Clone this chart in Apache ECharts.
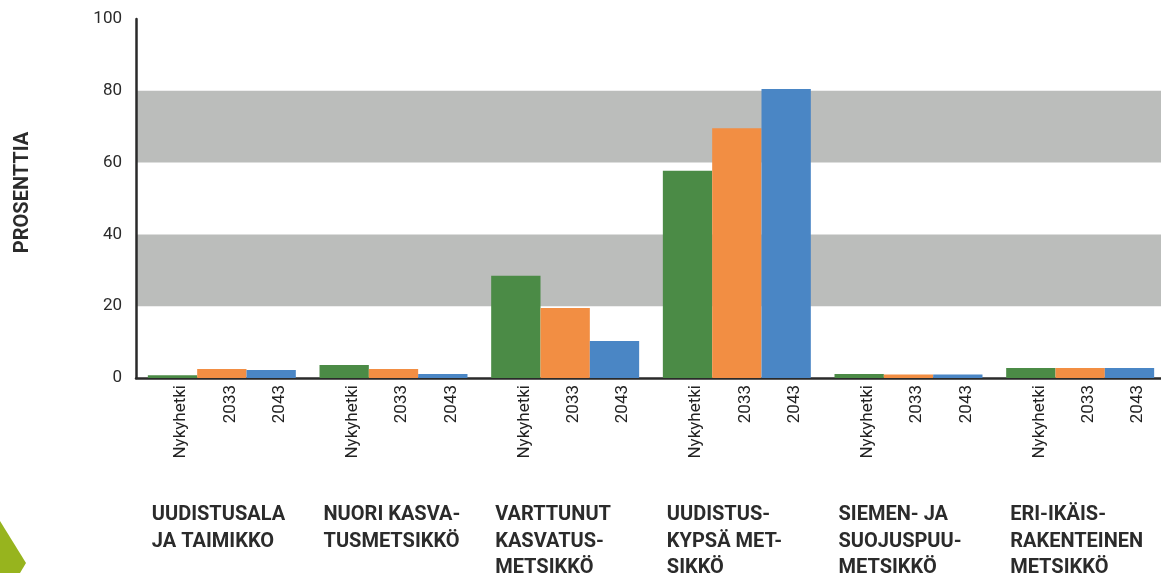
<!DOCTYPE html>
<html>
<head>
<meta charset="utf-8">
<script src="https://cdn.jsdelivr.net/npm/echarts@6/dist/echarts.min.js"></script>
<style>
html,body{margin:0;padding:0;background:#fff;overflow:hidden;}
#chart{width:1161px;height:573px;}
</style>
</head>
<body>
<div id="chart"></div>
<script>
// ---- data ----
const groups = [
  'UUDISTUSALA\nJA TAIMIKKO',
  'NUORI KASVA-\nTUSMETSIKKÖ',
  'VARTTUNUT\nKASVATUS-\nMETSIKKÖ',
  'UUDISTUS-\nKYPSÄ MET-\nSIKKÖ',
  'SIEMEN- JA\nSUOJUSPUU-\nMETSIKKÖ',
  'ERI-IKÄIS-\nRAKENTEINEN\nMETSIKKÖ'
];
const seriesNames = ['Nykyhetki', '2033', '2043'];
const nykyhetki = [0.8, 3.6, 28.5, 57.7, 1.1, 2.8];
const v2033 = [2.5, 2.5, 19.5, 69.6, 1.0, 2.8];
const v2043 = [2.2, 1.1, 10.3, 80.5, 1.0, 2.8];
const yAxisName = 'PROSENTTIA';
const yMin = 0, yMax = 100, yStep = 20;

const colors = ['#4B8B46', '#F28E43', '#4A86C5'];
const values = [nykyhetki, v2033, v2043];

const chart = echarts.init(document.getElementById('chart'), null, {renderer: 'canvas'});

const series = seriesNames.map((name, i) => ({
  name: name,
  type: 'bar',
  data: values[i],
  barGap: '0%',
  barCategoryGap: '13.8%',
  itemStyle: {color: colors[i]},
  label: {
    show: true,
    position: 'bottom',
    distance: 7,
    rotate: 90,
    align: 'right',
    verticalAlign: 'top',
    formatter: '{a}',
    fontFamily: 'Roboto',
    fontSize: 17,
    color: '#222'
  },
  emphasis: {disabled: true},
  animation: false
}));

chart.setOption({
  animation: false,
  textStyle: {fontFamily: 'Roboto'},
  grid: {left: 136, width: 1030, top: 19, bottom: 195, containLabel: false, outerBoundsMode: 'none'},
  xAxis: {
    type: 'category',
    data: groups,
    axisLine: {show: true, lineStyle: {color: '#2a2a2a', width: 2.5}},
    axisTick: {show: false},
    axisLabel: {
      interval: 0,
      margin: 124,
      align: 'center',
      verticalAlign: 'top',
      formatter: function (v) {
        return v.split('\n').map(l => '{a|' + l + '}').join('\n');
      },
      rich: {
        a: {
          width: 148,
          align: 'left',
          padding: [0, 0, 0, 8],
          fontFamily: 'Roboto',
          fontWeight: 'bold',
          fontSize: 20,
          lineHeight: 26.5,
          color: '#2b2b2b'
        }
      }
    },
    splitLine: {show: false}
  },
  yAxis: {
    type: 'value',
    min: yMin,
    max: yMax,
    interval: yStep,
    name: yAxisName,
    nameLocation: 'middle',
    nameRotate: 90,
    nameGap: 103,
    nameTextStyle: {fontFamily: 'Roboto', fontWeight: 'bold', fontSize: 20, color: '#2b2b2b', padding: [0, 0, 0, 12]},
    axisLine: {show: true, lineStyle: {color: '#2a2a2a', width: 2.5}},
    axisTick: {show: false},
    axisLabel: {margin: 14, fontFamily: 'Roboto', fontSize: 17, color: '#2b2b2b'},
    splitLine: {show: false},
    splitArea: {show: true, areaStyle: {color: ['rgba(0,0,0,0)', '#BBBDBB']}}
  },
  series: series,
  graphic: [{
    type: 'polygon',
    shape: {points: [[0, 521], [26, 563], [20, 573], [0, 573]]},
    style: {fill: '#97B41E'},
    silent: true
  }]
});
</script>
</body>
</html>
